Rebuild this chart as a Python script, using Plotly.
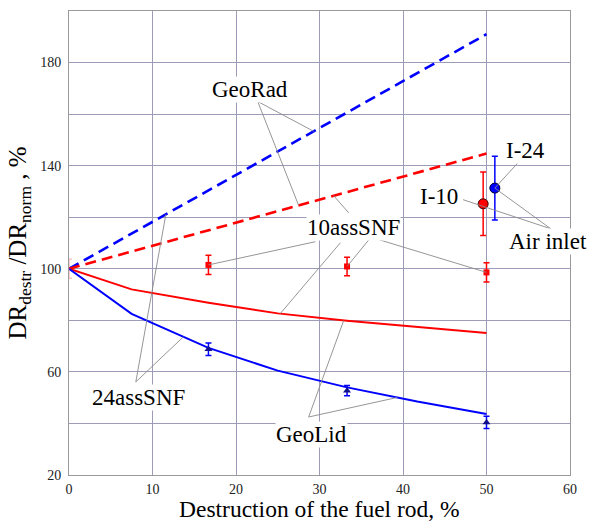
import plotly.graph_objects as go
import numpy as np

# ---- data ----
x_curve = [0, 7.5, 16.7, 25, 33.3, 41.7, 50]
red_lid = [100, 92, 86.8, 82.7, 79.8, 77.3, 75.1]     # 10assSNF GeoLid
blue_lid = [100, 82.5, 69.3, 60.5, 54, 48.5, 43.7]    # 24assSNF GeoLid
x_rad = [0, 50]
red_rad = [100, 144.7]    # 10assSNF GeoRad
blue_rad = [100, 191]     # 24assSNF GeoRad

x_exp = [16.7, 33.3, 50]
red_exp = [101.5, 100.9, 98.6]
red_err = [3.7, 3.6, 3.7]
blue_exp = [68.8, 52.7, 40.4]
blue_err = [2.4, 2.0, 2.4]

air_x = [49.6, 51.0]        # I-10, I-24
air_y = [125.2, 131.3]
air_err = [12.3, 12.4]

x_ticks = [0, 10, 20, 30, 40, 50, 60]
y_ticks = [20, 60, 100, 140, 180]

FONT = "'Liberation Serif', 'Times New Roman', Times, serif"
RED = "#ff0000"
BLUE = "#0000ff"
GRID = "#9c9cb8"
LEADER = "#8a8a8a"

fig = go.Figure()

fig.add_trace(go.Scatter(x=x_rad, y=blue_rad, mode="lines",
                         line=dict(color=BLUE, width=2.6, dash="11px,6px")))
fig.add_trace(go.Scatter(x=x_rad, y=red_rad, mode="lines",
                         line=dict(color=RED, width=2.6, dash="11px,6px")))
fig.add_trace(go.Scatter(x=x_curve, y=red_lid, mode="lines",
                         line=dict(color=RED, width=2)))
fig.add_trace(go.Scatter(x=x_curve, y=blue_lid, mode="lines",
                         line=dict(color=BLUE, width=2)))
# faint bar at origin
fig.add_trace(go.Scatter(x=[0], y=[100], mode="markers",
                         marker=dict(size=1, color="rgba(255,0,0,0)"),
                         error_y=dict(type="data", array=[3.7], color="rgba(255,80,80,0.35)",
                                      thickness=1.5, width=3)))
fig.add_trace(go.Scatter(x=x_exp, y=red_exp, mode="markers",
                         marker=dict(symbol="square", size=6, color=RED),
                         error_y=dict(type="data", array=red_err, color=RED,
                                      thickness=1.5, width=3)))
fig.add_trace(go.Scatter(x=x_exp, y=blue_exp, mode="markers",
                         marker=dict(symbol="triangle-up", size=7, color="#10108a"),
                         error_y=dict(type="data", array=blue_err, color=BLUE,
                                      thickness=1.5, width=3)))
fig.add_trace(go.Scatter(x=[air_x[0]], y=[air_y[0]], mode="markers",
                         marker=dict(symbol="circle", size=10, color=RED,
                                     line=dict(color="#400000", width=1)),
                         error_y=dict(type="data", array=[air_err[0]], color=RED,
                                      thickness=1.5, width=3)))
fig.add_trace(go.Scatter(x=[air_x[1]], y=[air_y[1]], mode="markers",
                         marker=dict(symbol="circle", size=10, color=BLUE,
                                     line=dict(color="#000030", width=1)),
                         error_y=dict(type="data", array=[air_err[1]], color=BLUE,
                                      thickness=1.5, width=3)))


def on(xs, ys, xv):
    return float(np.interp(xv, xs, ys))


leaders = [
    # GeoRad
    ((22.6, 164.9), (29.3, on(x_rad, blue_rad, 29.3))),
    ((22.6, 164.9), (27.5, on(x_rad, red_rad, 27.5))),
    # 10assSNF
    ((33.5, 121.7), (31.7, on(x_rad, red_rad, 31.7))),
    ((29.5, 110.5), (x_exp[0], red_exp[0])),
    ((32.5, 110.1), (25.3, on(x_curve, red_lid, 25.3))),
    ((36.1, 112.0), (x_exp[1], red_exp[1])),
    ((36.4, 112.0), (x_exp[2], red_exp[2])),
    # 24assSNF
    ((8.0, 56.1), (11.6, on(x_rad, blue_rad, 11.6))),
    ((8.0, 56.1), (13.7, on(x_curve, blue_lid, 13.7))),
    # GeoLid
    ((28.7, 42.5), (32.9, on(x_curve, red_lid, 32.9))),
    ((28.7, 42.5), (39.3, on(x_curve, blue_lid, 39.3))),
    # I-10 / I-24 / Air inlet
    ((47.2, 126.8), (57.7, 115.5)),
    ((air_x[1], air_y[1]), (57.7, 115.5)),
    ((53.9, 141.6), (air_x[1], air_y[1])),
]
shapes = []
for (x0, y0), (x1, y1) in leaders:
    shapes.append(dict(type="line", xref="x", yref="y", x0=x0, y0=y0, x1=x1, y1=y1,
                       line=dict(color=LEADER, width=0.9), layer="above"))

labels = ["GeoRad", "10assSNF", "24assSNF", "GeoLid", "I-10", "I-24", "Air inlet"]
label_x = [21.7, 34.1, 8.3, 29.0, 44.3, 54.7, 57.4]
label_y = [169.5, 115.9, 49.9, 35.9, 128.0, 145.8, 110.5]
annotations = []
for t, lx, ly in zip(labels, label_x, label_y):
    annotations.append(dict(x=lx, y=ly, xref="x", yref="y", text=t, showarrow=False,
                            font=dict(family=FONT, size=23, color="black"),
                            bgcolor="white", borderpad=0))
# x-axis title
annotations.append(dict(x=0.5, y=-0.0733, xref="paper", yref="paper",
                        text="Destruction of the fuel rod, %", showarrow=False,
                        xanchor="center", yanchor="middle",
                        font=dict(family=FONT, size=23.5, color="black")))

fig.update_layout(
    width=590, height=522,
    margin=dict(l=69, r=20, t=11, b=47),
    plot_bgcolor="white", paper_bgcolor="white",
    showlegend=False,
    shapes=shapes, annotations=annotations,
    font=dict(family=FONT, color="black"),
)
fig.update_xaxes(range=[0, 60], tickvals=x_ticks, ticktext=[str(v) for v in x_ticks],
                 showgrid=True, gridcolor=GRID, gridwidth=1, zeroline=False,
                 showline=True, linecolor="#9a9a9a", linewidth=1, mirror=True,
                 ticks="", ticklabelstandoff=1, automargin=False,
                 tickfont=dict(family=FONT, size=14, color="#222"))
fig.update_yaxes(range=[20, 200], tickvals=y_ticks, ticktext=[str(v) for v in y_ticks],
                 showgrid=True, gridcolor=GRID, gridwidth=1, zeroline=False,
                 minor=dict(tickvals=[40, 80, 120, 160], showgrid=True, gridcolor=GRID,
                            gridwidth=1, ticks=""),
                 showline=True, linecolor="#9a9a9a", linewidth=1, mirror=True,
                 ticks="", ticklabelstandoff=4, automargin=False,
                 tickfont=dict(family=FONT, size=14, color="#222"),
                 title=dict(text="DR<sub>destr</sub> /DR<sub>norm</sub> , %", standoff=6,
                            font=dict(family=FONT, size=25, color="black")))

fig.write_html("out.html")
